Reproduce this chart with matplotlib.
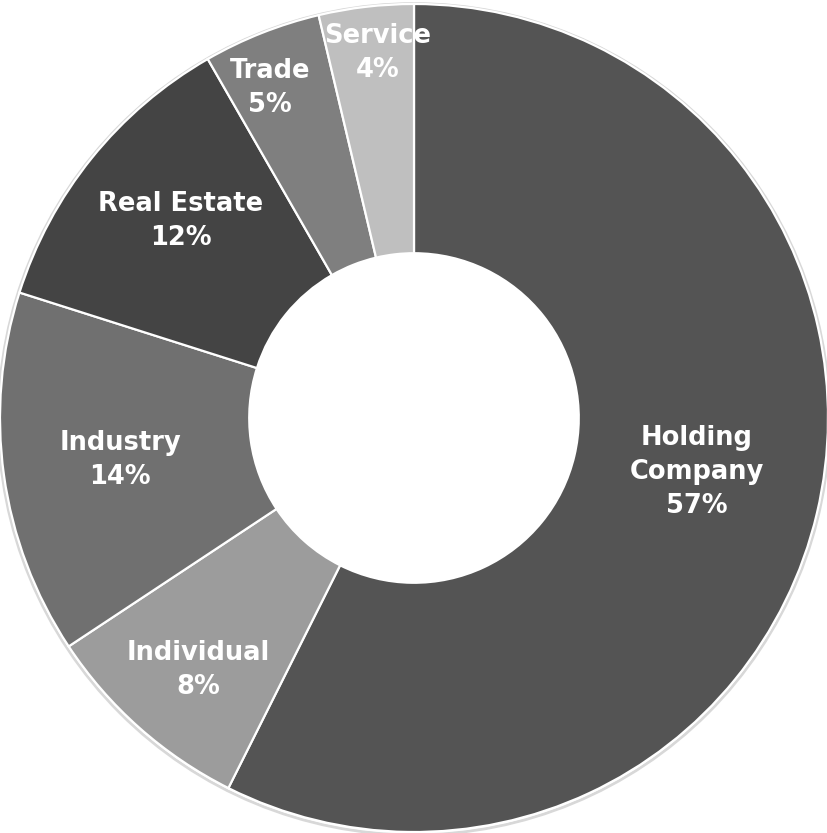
import matplotlib.pyplot as plt
import numpy as np

# slices, clockwise from 12 o'clock
categories = ["Holding\nCompany", "Individual", "Industry", "Real Estate", "Trade", "Service"]
shares = [57.4, 8.3, 14.2, 11.8, 4.6, 3.7]
colors = ["#545454", "#9c9c9c", "#707070", "#444444", "#7f7f7f", "#bfbfbf"]

# label placement: distance from centre (fraction of outer radius) and angle nudge (deg)
label_r = [0.695, 0.80, 0.717, 0.737, 0.87, 0.886]
label_nudge = [2.5, 1.0, 0.3, -1.3, 2.0, -1.0]

fig = plt.figure(figsize=(8.27, 8.33), dpi=100)
ax = fig.add_axes([0, 0, 1, 1])

wedges, _ = ax.pie(
    shares,
    colors=colors,
    startangle=90,
    counterclock=False,
    radius=1.0,
    wedgeprops=dict(width=0.602, edgecolor="white", linewidth=1.6),
)

# faint shadow on the outer rim
ax.add_patch(plt.Circle((0, -0.003), 1.004, fill=False, edgecolor="#d8d8d8", linewidth=2.0, zorder=0))

for w, name, val, r, dth in zip(wedges, categories, shares, label_r, label_nudge):
    ang = np.deg2rad((w.theta1 + w.theta2) / 2 + dth)
    x, y = r * np.cos(ang), r * np.sin(ang)
    ax.text(x, y, f"{name}\n{round(val):.0f}%", ha="center", va="center",
            color="white", fontsize=18.5, fontweight="bold", linespacing=1.4,
            family="DejaVu Sans")

ax.set_xlim(-1.0, 827 / 414 - 1.0)
ax.set_ylim(-(833 - 418) / 414, 418 / 414)
ax.set_aspect("equal")
ax.axis("off")

fig.savefig("out.png", dpi=100)
